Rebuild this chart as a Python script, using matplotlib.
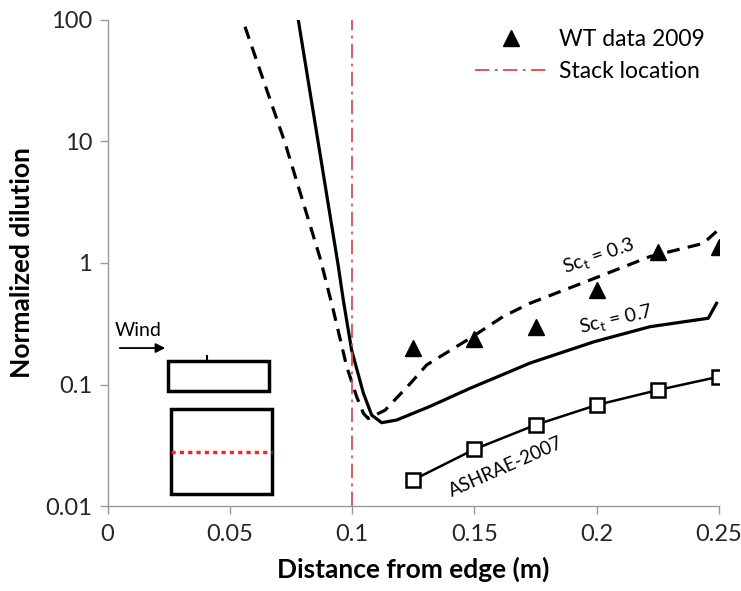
import matplotlib
matplotlib.use("Agg")
import matplotlib.pyplot as plt
from matplotlib.patches import Rectangle, FancyArrowPatch

plt.rcParams['font.family'] = ['Lato', 'DejaVu Sans']

# WT data 2009
wt_x = [0.125, 0.15, 0.175, 0.2, 0.225, 0.25]
wt_y = [0.199, 0.235, 0.30, 0.60, 1.24, 1.36]

# ASHRAE-2007
ash_x = [0.125, 0.15, 0.175, 0.2, 0.225, 0.25]
ash_y = [0.0164, 0.0293, 0.0465, 0.0678, 0.090, 0.116]

# Sc_t = 0.7 (solid)
sc07_x = [0.0780, 0.0944, 0.0964, 0.0998, 0.1046, 0.1080, 0.1121, 0.1182,
          0.1318, 0.1482, 0.1646, 0.1727, 0.1990, 0.2218, 0.2456, 0.2490]
sc07_y = [100, 0.93, 0.495, 0.192, 0.085, 0.056, 0.0485, 0.051,
          0.066, 0.093, 0.128, 0.150, 0.225, 0.299, 0.351, 0.466]

# Sc_t = 0.3 (dashed)
sc03_x = [0.0562, 0.0726, 0.0869, 0.0923, 0.0978, 0.1019, 0.1046, 0.1066,
          0.1135, 0.1240, 0.1305, 0.1482, 0.1618, 0.1727, 0.1973, 0.2218,
          0.2436, 0.2490]
sc03_y = [88, 9.7, 1.1, 0.41, 0.14, 0.079, 0.058, 0.0525,
          0.0615, 0.103, 0.145, 0.24, 0.363, 0.466, 0.724, 1.13,
          1.45, 1.82]

stack_x = 0.1

fig = plt.figure(figsize=(7.41, 5.91), dpi=100)
ax = fig.add_axes([0.1451, 0.1438, 0.9703 - 0.1451, 0.9662 - 0.1438])

ax.set_yscale('log')
ax.set_xlim(0, 0.25)
ax.set_ylim(0.01, 100)

ax.plot(sc03_x, sc03_y, color='black', lw=2.3, ls=(0, (4, 2.6)),
        solid_joinstyle='round')
ax.plot(sc07_x, sc07_y, color='black', lw=2.3, solid_joinstyle='round')
ax.plot(ash_x, ash_y, color='black', lw=1.8, marker='s', markersize=10,
        markerfacecolor='white', markeredgecolor='black', markeredgewidth=1.8)
ax.plot(wt_x, wt_y, ls='none', marker='^', markersize=11, color='black',
        label='WT data 2009')
ax.axvline(stack_x, color='#e8464b', lw=1.3, ls=(0, (8, 3, 1.5, 3)),
           label='Stack location')

ax.text(0.201, 1.12, 'Sc$_\\mathregular{t}$ = 0.3', rotation=19, ha='center', va='center',
        fontsize=14)
ax.text(0.208, 0.34, 'Sc$_\\mathregular{t}$ = 0.7', rotation=13, ha='center', va='center',
        fontsize=14)
ax.text(0.163, 0.021, 'ASHRAE-2007', rotation=24, ha='center', va='center',
        fontsize=13.5)

# Building schematic inset
T = ax.transAxes
ax.text(0.012, 0.362, 'Wind', transform=T, ha='left', va='center', fontsize=14)
ax.add_patch(FancyArrowPatch((0.0155, 0.325), (0.099, 0.325), transform=T,
                             arrowstyle='-|>', mutation_scale=14, color='black', lw=1.3))
ax.add_patch(Rectangle((0.099, 0.237), 0.165, 0.061, transform=T, fill=False,
                       lw=2.5, ec='black'))
ax.plot([0.163, 0.163], [0.298, 0.309], transform=T, color='black', lw=1.5)
ax.add_patch(Rectangle((0.104, 0.0247), 0.165, 0.175, transform=T, fill=False,
                       lw=2.5, ec='black'))
ax.plot([0.104, 0.269], [0.1117, 0.1117], transform=T, color='#ff2020', lw=2.5,
        ls=(0, (1.2, 1.2)))

# Axes styling
for s in ['top', 'right']:
    ax.spines[s].set_visible(False)
for s in ['left', 'bottom']:
    ax.spines[s].set_color('#9a9a9a')
    ax.spines[s].set_linewidth(1.0)
ax.tick_params(axis='both', which='major', direction='out', length=6, width=1,
               color='#9a9a9a', labelsize=17, labelcolor='#262626')
ax.tick_params(axis='y', pad=5)
ax.tick_params(axis='x', pad=7)
ax.tick_params(axis='y', which='minor', left=False)
ax.set_xticks([0, 0.05, 0.1, 0.15, 0.2, 0.25])
ax.set_xticklabels(['0', '0.05', '0.1', '0.15', '0.2', '0.25'])
ax.set_yticks([0.01, 0.1, 1, 10, 100])
ax.set_yticklabels(['0.01', '0.1', '1', '10', '100'])

ax.set_xlabel('Distance from edge (m)', fontsize=19, fontweight='bold', labelpad=8)
ax.set_ylabel('Normalized dilution', fontsize=19, fontweight='bold', labelpad=8)

leg = ax.legend(loc='upper right', frameon=False, fontsize=16.5, handlelength=3.2,
                borderaxespad=0.2, labelspacing=0.5, handletextpad=0.5,
                bbox_to_anchor=(1.0, 1.01))

fig.savefig('out.png', dpi=100)
